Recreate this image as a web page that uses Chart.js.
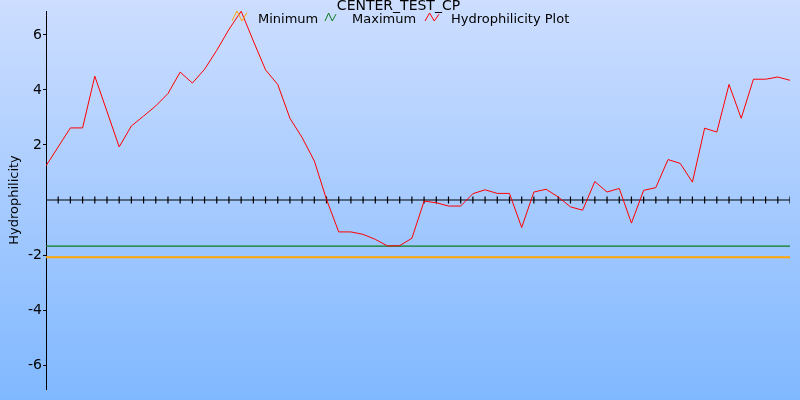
<!DOCTYPE html>
<html><head><meta charset="utf-8">
<script src="https://cdn.jsdelivr.net/npm/chart.js@4/dist/chart.umd.min.js"></script>
<style>html,body{margin:0;padding:0;background:#fff}#wrap{width:800px;height:400px;position:relative}</style>
</head><body><div id="wrap"><canvas id="c" width="800" height="400"></canvas></div>
<script>
const chartTitle = "CENTER_TEST_CP";
const seriesNames = ["Minimum", "Maximum", "Hydrophilicity Plot"];
const yAxisTitle = "Hydrophilicity";
const hydrophilicity = [1.24,1.93,2.62,2.62,4.5,3.22,1.93,2.69,3.05,3.42,
  3.87,4.65,4.25,4.75,5.44,6.2,6.86,5.78,4.73,4.2,
  2.97,2.27,1.42,0.02,-1.16,-1.16,-1.25,-1.43,-1.67,-1.66,
  -1.39,-0.04,-0.1,-0.22,-0.22,0.23,0.37,0.24,0.24,-1.0,
  0.29,0.39,0.11,-0.25,-0.37,0.67,0.29,0.42,-0.84,0.35,
  0.45,1.47,1.33,0.65,2.61,2.47,4.2,2.97,4.39,4.39,
  4.47,4.35];
const minimumValue = -2.08;
const maximumValue = -1.68;
const yTickValues = [-6, -4, -2, 2, 4, 6];
const yMin = -6.87, yMax = 6.87;
const seriesColors = ["#ffa500", "#0a7a20", "#ff0000"];

const lastIndex = hydrophilicity.length - 1;
const plotPoints = hydrophilicity.map((v, i) => ({x: i, y: v}));
const zeroAxisPoints = hydrophilicity.map((v, i) => ({x: i, y: 0}));
const minPoints = [{x: 0, y: minimumValue}, {x: lastIndex, y: minimumValue}];
const maxPoints = [{x: 0, y: maximumValue}, {x: lastIndex, y: maximumValue}];

const FONT = '"DejaVu Sans", Verdana, sans-serif';

const bgPlugin = {
  id: 'bg',
  beforeDraw(chart) {
    const ctx = chart.ctx;
    const g = ctx.createLinearGradient(0, 0, 0, chart.height);
    g.addColorStop(0, 'rgb(205,222,255)');
    g.addColorStop(1, 'rgb(128,184,255)');
    ctx.save();
    ctx.fillStyle = g;
    ctx.fillRect(0, 0, chart.width, chart.height);
    ctx.restore();
  }
};

function zigzag(ctx, x, y, w, h, color) {
  ctx.save();
  ctx.strokeStyle = color;
  ctx.lineWidth = 1;
  ctx.beginPath();
  ctx.moveTo(x, y + h);
  ctx.lineTo(x + w * 0.33, y);
  ctx.lineTo(x + w * 0.66, y + h);
  ctx.lineTo(x + w, y + h * 0.15);
  ctx.stroke();
  ctx.restore();
}

const headerPlugin = {
  id: 'header',
  afterDraw(chart) {
    const ctx = chart.ctx;
    ctx.save();
    ctx.fillStyle = '#000';
    ctx.textBaseline = 'alphabetic';
    ctx.font = '14px ' + FONT;
    ctx.textAlign = 'center';
    ctx.fillText(chartTitle, 398.5, 10);
    ctx.font = '13px ' + FONT;
    ctx.textAlign = 'left';
    const items = [
      {icon: [232, 11, 15, 10], tx: 258},
      {icon: [325, 13, 11, 8], tx: 352},
      {icon: [425, 13, 14, 8], tx: 451}
    ];
    items.forEach((it, i) => {
      zigzag(ctx, it.icon[0], it.icon[1], it.icon[2], it.icon[3], seriesColors[i]);
      ctx.fillStyle = '#000';
      ctx.fillText(seriesNames[i], it.tx, 23);
    });
    ctx.restore();
  }
};

new Chart(document.getElementById('c'), {
  type: 'line',
  data: {
    datasets: [
      {label: seriesNames[2], data: plotPoints, borderColor: seriesColors[2], borderWidth: 1, pointRadius: 0, tension: 0, fill: false},
      {label: seriesNames[1], data: maxPoints, borderColor: seriesColors[1], borderWidth: 1.2, pointRadius: 0, fill: false},
      {label: seriesNames[0], data: minPoints, borderColor: seriesColors[0], borderWidth: 2, pointRadius: 0, fill: false},
      {label: 'zero', data: zeroAxisPoints, borderColor: '#000', borderWidth: 1.2, pointStyle: 'line', rotation: 90,
       pointRadius: 3.5, pointBorderWidth: 1.2, pointBorderColor: '#000', pointHoverRadius: 3.5, fill: false}
    ]
  },
  options: {
    responsive: false,
    animation: false,
    events: [],
    layout: {padding: {left: 0, top: 11, right: 10, bottom: 11}},
    plugins: {legend: {display: false}, title: {display: false}, tooltip: {enabled: false}},
    scales: {
      x: {type: 'linear', min: 0, max: lastIndex, display: false},
      y: {
        type: 'linear', min: yMin, max: yMax,
        afterBuildTicks(scale) { scale.ticks = yTickValues.map(v => ({value: v})); },
        afterFit(scale) { scale.width = 46; },
        ticks: {color: '#000', padding: 1, font: {family: FONT, size: 14}},
        grid: {display: true, drawOnChartArea: false, drawTicks: true, tickLength: 3, color: '#000', tickColor: '#000', tickWidth: 1},
        border: {display: true, color: '#000', width: 1},
        title: {display: true, text: yAxisTitle, color: '#000', padding: {top: 7, bottom: 0}, font: {family: FONT, size: 13}}
      }
    }
  },
  plugins: [bgPlugin, headerPlugin]
});
</script>
</body></html>
